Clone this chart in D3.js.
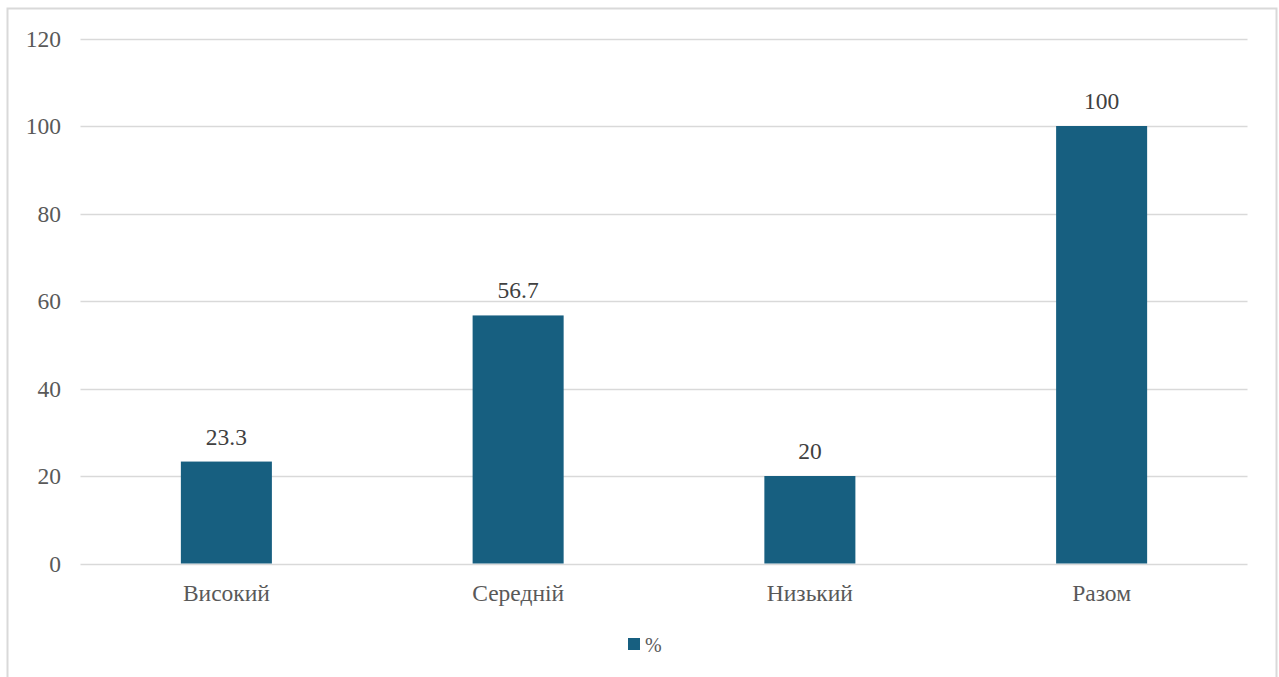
<!DOCTYPE html>
<html><head><meta charset="utf-8">
<script src="https://cdn.jsdelivr.net/npm/d3@7"></script>
<style>body{margin:0;background:#fff}svg{display:block}</style>
</head><body><svg id="c" width="1279" height="677"></svg>
<script>
const categories = ["Високий", "Середній", "Низький", "Разом"];
const values = [23.3, 56.7, 20, 100];
const valueLabels = ["23.3", "56.7", "20", "100"];
const yTicks = [0, 20, 40, 60, 80, 100, 120];
const seriesName = "%";

const svg = d3.select("#c");
const FONT = '"Liberation Serif", "Times New Roman", serif';
const textColor = "#595959";
const barColor = "#175F80";
const fs = 23.5;

svg.append("rect").attr("x", 7.5).attr("y", 8.5).attr("width", 1269).attr("height", 700)
  .attr("fill", "#fff").attr("stroke", "#d9d9d9").attr("stroke-width", 2);

const x0 = 80.5, x1 = 1247.5;
const y = d3.scaleLinear().domain([0, 120]).range([563.5, 38.5]);
const x = d3.scaleBand().domain(categories).range([x0, x1]).padding(0);
const barW = x.bandwidth() * 0.312;

svg.append("g").selectAll("line").data(yTicks).join("line")
  .attr("x1", x0).attr("x2", x1)
  .attr("y1", d => Math.round(y(d)) + 0.5).attr("y2", d => Math.round(y(d)) + 0.5)
  .attr("stroke", "#d9d9d9").attr("stroke-width", 1.5);

const yAxis = d3.axisLeft(y).tickValues(yTicks).tickSize(0).tickPadding(19.5);
const gy = svg.append("g").attr("transform", `translate(${x0},0)`).call(yAxis);
gy.select(".domain").remove();
gy.selectAll("text").style("font-family", FONT).style("font-size", fs + "px").attr("fill", textColor);

svg.append("g").selectAll("rect").data(values).join("rect")
  .attr("x", (d, i) => x(categories[i]) + x.bandwidth() / 2 - barW / 2)
  .attr("width", barW)
  .attr("y", d => y(d))
  .attr("height", d => y(0) - y(d))
  .attr("fill", barColor);

svg.append("g").selectAll("text").data(values).join("text")
  .attr("x", (d, i) => x(categories[i]) + x.bandwidth() / 2)
  .attr("y", d => y(d) - 17)
  .attr("text-anchor", "middle")
  .style("font-family", FONT).style("font-size", fs + "px").attr("fill", "#404040")
  .text((d, i) => valueLabels[i]);

const xAxis = d3.axisBottom(x).tickSize(0).tickPadding(20.5);
const gx = svg.append("g").attr("transform", `translate(0,${y(0)})`).call(xAxis);
gx.select(".domain").remove();
gx.selectAll("text").style("font-family", FONT).style("font-size", fs + "px").attr("fill", textColor);

const lg = svg.append("g");
lg.append("rect").attr("x", 628).attr("y", 638).attr("width", 12).attr("height", 12).attr("fill", barColor);
lg.append("text").attr("x", 645).attr("y", 651.5)
  .style("font-family", FONT).style("font-size", "20px")
  .attr("fill", textColor).text(seriesName);
</script></body></html>
